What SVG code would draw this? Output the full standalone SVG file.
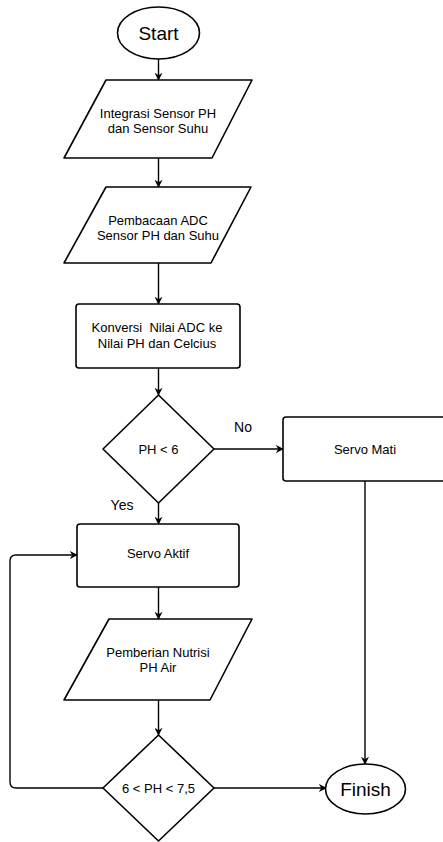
<svg xmlns="http://www.w3.org/2000/svg" width="443" height="842" viewBox="0 0 443 842">
<defs>
<style>
.s{fill:#fff;stroke:#000;stroke-width:1.6;stroke-linejoin:round}
.c{fill:none;stroke:#000;stroke-width:1.4}
.t{font-family:"Liberation Sans",Arial,sans-serif;font-size:13px;fill:#000;text-anchor:middle;white-space:pre}
.b{font-family:"Liberation Sans",Arial,sans-serif;font-size:19px;fill:#000;text-anchor:middle}
.l{font-family:"Liberation Sans",Arial,sans-serif;font-size:14px;fill:#000;text-anchor:middle}
</style>
<marker id="a" viewBox="0 0 10 10" refX="9" refY="5" markerWidth="8" markerHeight="8" markerUnits="userSpaceOnUse" orient="auto">
<path d="M0,0 L10,5 L0,10 L3,5 Z" fill="#000"/>
</marker>
</defs>
<rect width="443" height="842" fill="#fff"/>
<g id="connectors">
<line class="c" x1="158.5" y1="59" x2="158.5" y2="80" marker-end="url(#a)"/>
<line class="c" x1="158.5" y1="158" x2="158.5" y2="187" marker-end="url(#a)"/>
<line class="c" x1="158.5" y1="263" x2="158.5" y2="304" marker-end="url(#a)"/>
<line class="c" x1="158.5" y1="368" x2="158.5" y2="395" marker-end="url(#a)"/>
<line class="c" x1="214" y1="449" x2="283" y2="449" marker-end="url(#a)"/>
<line class="c" x1="158.5" y1="503" x2="158.5" y2="524" marker-end="url(#a)"/>
<line class="c" x1="365" y1="481" x2="365" y2="764" marker-end="url(#a)"/>
<line class="c" x1="158.5" y1="587" x2="158.5" y2="619" marker-end="url(#a)"/>
<line class="c" x1="158.5" y1="700" x2="158.5" y2="735" marker-end="url(#a)"/>
<path class="c" d="M103,788 L16,788 Q10,788 10,782 L10,561 Q10,555 16,555 L77,555" marker-end="url(#a)"/>
<line class="c" x1="214" y1="788" x2="326" y2="788" marker-end="url(#a)"/>
<text class="l" x="243" y="432">No</text>
<text class="l" x="122" y="510">Yes</text>
</g>
<g id="start">
<ellipse class="s" cx="158.5" cy="33" rx="41" ry="26"/>
<text class="b" x="158.5" y="40">Start</text>
</g>
<g id="integrasi">
<path class="s" d="M106,80 L252,80 L212,158 L64,158 Z"/>
<text class="t" x="158" y="117.5">Integrasi Sensor PH</text>
<text class="t" x="158" y="132.5">dan Sensor Suhu</text>
</g>
<g id="pembacaan">
<path class="s" d="M106,187 L251,187 L211,263 L64,263 Z"/>
<text class="t" x="158" y="224.5">Pembacaan ADC</text>
<text class="t" x="158" y="239.5">Sensor PH dan Suhu</text>
</g>
<g id="konversi">
<rect class="s" x="76" y="304" width="164" height="64" rx="3"/>
<text class="t" x="157" y="331.5" xml:space="preserve">Konversi  Nilai ADC ke</text>
<text class="t" x="157" y="347.5">Nilai PH dan Celcius</text>
</g>
<g id="ph6">
<path class="s" d="M158.5,395 L214,449 L158.5,503 L103,449 Z"/>
<text class="t" x="158.5" y="453.5">PH &lt; 6</text>
</g>
<g id="servomati">
<rect class="s" x="283" y="417" width="164" height="64" rx="3"/>
<text class="t" x="365" y="453.5">Servo Mati</text>
</g>
<g id="servoaktif">
<rect class="s" x="77" y="524" width="162" height="63" rx="3"/>
<text class="t" x="158" y="557.5">Servo Aktif</text>
</g>
<g id="nutrisi">
<path class="s" d="M109,619 L252,619 L210,700 L64,700 Z"/>
<text class="t" x="158" y="656.5">Pemberian Nutrisi</text>
<text class="t" x="158" y="671.5">PH Air</text>
</g>
<g id="ph75">
<path class="s" d="M158.5,735 L214,788 L158.5,841 L103,788 Z"/>
<text class="t" x="158.5" y="792.5">6 &lt; PH &lt; 7,5</text>
</g>
<g id="finish">
<ellipse class="s" cx="365.5" cy="789" rx="40" ry="25"/>
<text class="b" x="365.5" y="796">Finish</text>
</g>
</svg>
